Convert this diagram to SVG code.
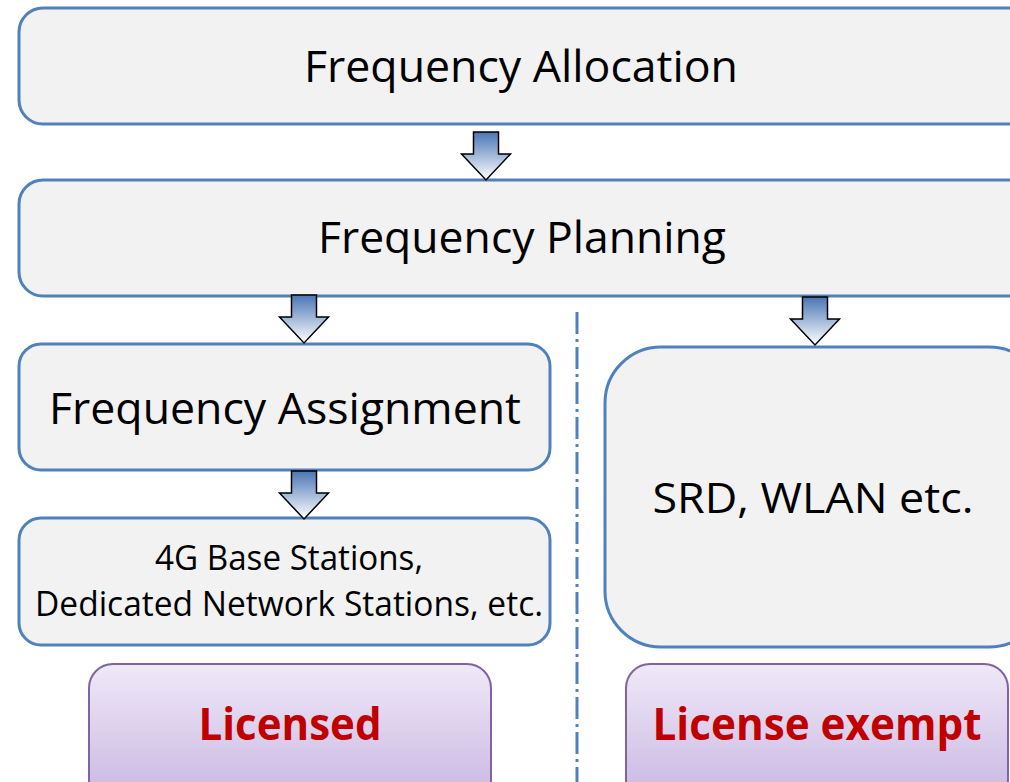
<svg xmlns="http://www.w3.org/2000/svg" width="1010" height="782" viewBox="0 0 1010 782">
<defs>
<linearGradient id="ag" x1="0" y1="0" x2="0" y2="1">
<stop offset="0" stop-color="#4A76B4"/>
<stop offset="1" stop-color="#FFFFFF"/>
</linearGradient>
<linearGradient id="pg" x1="0" y1="0" x2="0" y2="1">
<stop offset="0" stop-color="#EFE9F7"/>
<stop offset="1" stop-color="#C9B5E2"/>
</linearGradient>
<path id="arr" d="M-12.5,0 H12.5 V22 H24.5 L0,48 L-24.5,22 H-12.5 Z"/>
</defs>
<style>
.box{fill:#F2F2F2;stroke:#4F81BD;stroke-width:3}
.pbox{fill:url(#pg);stroke:#8064A2;stroke-width:2}
.t{font-family:"Open Sans","Liberation Sans",sans-serif;fill:#000;text-anchor:middle}
.r{font-family:"Open Sans","Liberation Sans",sans-serif;font-weight:bold;fill:#C00000;text-anchor:middle}
.a{fill:url(#ag);stroke:#000;stroke-width:1.5;stroke-linejoin:miter}
</style>
<rect width="1010" height="782" fill="#FFFFFF"/>
<g id="alloc">
<rect class="box" x="19" y="8" width="1020" height="116" rx="24"/>
<text class="t" x="521" y="82" font-size="44" textLength="434" lengthAdjust="spacingAndGlyphs">Frequency Allocation</text>
</g>
<g id="planning">
<rect class="box" x="19" y="180" width="1020" height="116" rx="24"/>
<text class="t" x="522" y="253" font-size="44" textLength="408" lengthAdjust="spacingAndGlyphs">Frequency Planning</text>
</g>
<g id="assignment">
<rect class="box" x="19" y="344" width="531" height="126" rx="22"/>
<text class="t" x="285" y="424" font-size="44" textLength="472" lengthAdjust="spacingAndGlyphs">Frequency Assignment</text>
</g>
<g id="stations">
<rect class="box" x="19" y="518" width="531" height="127" rx="22"/>
<text class="t" x="289" y="570" font-size="34" textLength="268" lengthAdjust="spacingAndGlyphs">4G Base Stations,</text>
<text class="t" x="289" y="616" font-size="34" textLength="508" lengthAdjust="spacingAndGlyphs">Dedicated Network Stations, etc.</text>
</g>
<g id="srd">
<rect class="box" x="605" y="347" width="440" height="300" rx="56"/>
<text class="t" x="813" y="513" font-size="42" textLength="321" lengthAdjust="spacingAndGlyphs">SRD, WLAN etc.</text>
</g>
<g id="licensed">
<rect class="pbox" x="89" y="664" width="402" height="140" rx="24"/>
<text class="r" x="290" y="740" font-size="44" textLength="183" lengthAdjust="spacingAndGlyphs">Licensed</text>
</g>
<g id="exempt">
<rect class="pbox" x="626" y="664" width="382" height="140" rx="24"/>
<text class="r" x="817" y="740" font-size="44" textLength="329" lengthAdjust="spacingAndGlyphs">License exempt</text>
</g>
<g id="connectors">
<use href="#arr" class="a" transform="translate(486,132)"/>
<use href="#arr" class="a" transform="translate(304,295)"/>
<use href="#arr" class="a" transform="translate(815,297)"/>
<use href="#arr" class="a" transform="translate(304,471)"/>
<line x1="577" y1="312" x2="577" y2="782" stroke="#4F81BD" stroke-width="3" stroke-dasharray="22 5 3 5"/>
</g>
</svg>
